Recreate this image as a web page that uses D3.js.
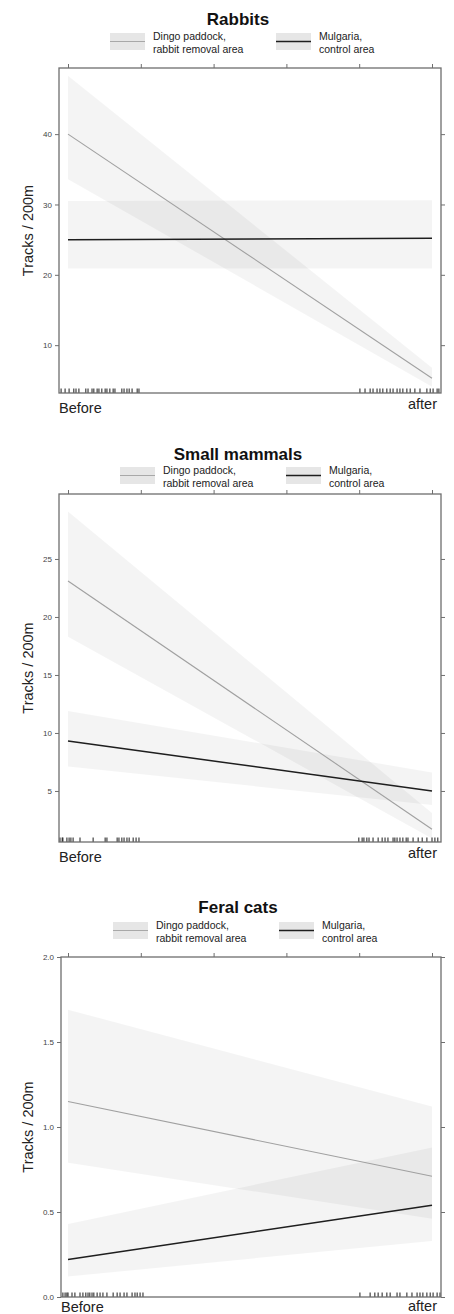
<!DOCTYPE html>
<html>
<head>
<meta charset="utf-8">
<script src="https://cdn.jsdelivr.net/npm/d3@7"></script>
<style>
  html, body { margin: 0; padding: 0; background: #fff; }
  svg { display: block; font-family: "Liberation Sans", Arial, sans-serif; }
</style>
</head>
<body>
<svg id="chart" width="454" height="1314"></svg>
<script>
// ---------------- DATA ----------------
const categories = ["Before", "after"];
const categoryX = [0, 1];
const topTickValues = [0, 0.2, 0.4, 0.6, 0.8, 1.0];
const seriesLabels = [["Dingo paddock,", "rabbit removal area"], ["Mulgaria,", "control area"]];
const panelTitles = ["Rabbits", "Small mammals", "Feral cats"];
const yAxisTitle = "Tracks / 200m";

// Rabbits
const rabbitsDomain = [3.2, 49.4];
const rabbitsTicks = [10, 20, 30, 40];
const rabbitsTickLabels = ["10", "20", "30", "40"];
const rabbitsDingoFit = [40.0, 5.3];
const rabbitsDingoLower = [33.6, 4.1];
const rabbitsDingoUpper = [48.3, 6.8];
const rabbitsMulgariaFit = [25.0, 25.2];
const rabbitsMulgariaLower = [20.9, 20.9];
const rabbitsMulgariaUpper = [30.5, 30.6];
const rabbitsRug = [-0.019, -0.008, 0.003, 0.016, 0.022, 0.030, 0.049, 0.055, 0.066, 0.071, 0.080, 0.085,
  0.093, 0.102, 0.107, 0.115, 0.124, 0.129, 0.148, 0.154, 0.162, 0.168, 0.176, 0.190, 0.195,
  0.802, 0.816, 0.830, 0.838, 0.849, 0.857, 0.865, 0.876, 0.885, 0.893, 0.904, 0.912, 0.920,
  0.931, 0.940, 0.953, 0.967, 0.986, 0.995, 1.003, 1.014, 1.019];

// Small mammals
const smallDomain = [0.6, 30.6];
const smallTicks = [5, 10, 15, 20, 25];
const smallTickLabels = ["5", "10", "15", "20", "25"];
const smallDingoFit = [23.1, 1.7];
const smallDingoLower = [18.3, 0.9];
const smallDingoUpper = [29.1, 3.1];
const smallMulgariaFit = [9.3, 5.0];
const smallMulgariaLower = [7.1, 3.8];
const smallMulgariaUpper = [11.9, 6.6];
const smallRug = [-0.022, -0.016, -0.014, -0.003, 0.003, 0.008, 0.014, 0.033, 0.069, 0.102, 0.107,
  0.135, 0.140, 0.148, 0.154, 0.162, 0.168, 0.179, 0.187, 0.195,
  0.799, 0.808, 0.813, 0.821, 0.827, 0.838, 0.852, 0.863, 0.871, 0.879, 0.893, 0.898, 0.904,
  0.912, 0.920, 0.929, 0.934, 0.948, 0.962, 0.973, 0.986, 1.000, 1.008, 1.016];

// Feral cats
const catsDomain = [0, 2];
const catsTicks = [0, 0.5, 1.0, 1.5, 2.0];
const catsTickLabels = ["0.0", "0.5", "1.0", "1.5", "2.0"];
const catsDingoFit = [1.15, 0.71];
const catsDingoLower = [0.79, 0.46];
const catsDingoUpper = [1.69, 1.12];
const catsMulgariaFit = [0.22, 0.54];
const catsMulgariaLower = [0.12, 0.33];
const catsMulgariaUpper = [0.43, 0.88];
const catsRug = [-0.014, -0.008, -0.003, 0.000, 0.011, 0.019, 0.033, 0.041, 0.049, 0.055, 0.060, 0.066,
  0.071, 0.080, 0.088, 0.096, 0.107, 0.124, 0.135, 0.143, 0.154, 0.162, 0.176, 0.184, 0.190, 0.198, 0.206,
  0.802, 0.830, 0.843, 0.852, 0.863, 0.876, 0.885, 0.904, 0.912, 0.931, 0.945, 0.959, 0.967,
  0.975, 0.986, 0.995, 1.003, 1.014, 1.022];

// ---------------- LAYOUT (positions, not data) ----------------
const panels = [
  { title: panelTitles[0], domain: rabbitsDomain, ticks: rabbitsTicks, tickLabels: rabbitsTickLabels,
    dingo: [rabbitsDingoFit, rabbitsDingoLower, rabbitsDingoUpper],
    mulg: [rabbitsMulgariaFit, rabbitsMulgariaLower, rabbitsMulgariaUpper], rug: rabbitsRug,
    top: 68, bottom: 393, left: 59, right: 441, titleY: 25, legY: 33, legX1: 110, legX2: 276,
    befDy: 20, aftDy: 16 },
  { title: panelTitles[1], domain: smallDomain, ticks: smallTicks, tickLabels: smallTickLabels,
    dingo: [smallDingoFit, smallDingoLower, smallDingoUpper],
    mulg: [smallMulgariaFit, smallMulgariaLower, smallMulgariaUpper], rug: smallRug,
    top: 494, bottom: 842, left: 59, right: 441, titleY: 460, legY: 467, legX1: 120, legX2: 286,
    befDy: 20, aftDy: 16 },
  { title: panelTitles[2], domain: catsDomain, ticks: catsTicks, tickLabels: catsTickLabels,
    dingo: [catsDingoFit, catsDingoLower, catsDingoUpper],
    mulg: [catsMulgariaFit, catsMulgariaLower, catsMulgariaUpper], rug: catsRug,
    top: 957, bottom: 1297, left: 61, right: 441, titleY: 913, legY: 922, legX1: 113, legX2: 279,
    befDy: 15, aftDy: 14 }
];

const svg = d3.select("#chart");
const x = d3.scaleLinear().domain([0, 1]).range([68, 432]);
const frameCol = "#6e6e6e";

panels.forEach(p => {
  const g = svg.append("g");
  const y = d3.scaleLinear().domain(p.domain).range([p.bottom, p.top]);

  // title
  g.append("text").attr("x", 238).attr("y", p.titleY).attr("text-anchor", "middle")
    .attr("font-size", 17).attr("font-weight", "bold").attr("fill", "#111").text(p.title);

  // legend
  [[p.legX1, "#a8a8a8", 1, seriesLabels[0]], [p.legX2, "#1e1e1e", 1.6, seriesLabels[1]]].forEach(([lx, col, w, lab]) => {
    g.append("rect").attr("x", lx).attr("y", p.legY).attr("width", 35).attr("height", 17).attr("fill", "#e6e6e6");
    g.append("line").attr("x1", lx).attr("x2", lx + 35).attr("y1", p.legY + 8.5).attr("y2", p.legY + 8.5)
      .attr("stroke", col).attr("stroke-width", w);
    lab.forEach((t, i) => {
      g.append("text").attr("x", lx + 43).attr("y", p.legY + 7 + i * 12.5).attr("font-size", 10.5)
        .attr("fill", "#222").text(t);
    });
  });

  // bands
  const area = d3.area().x((d, i) => x(categoryX[i])).y0(d => y(d[0])).y1(d => y(d[1]));
  const line = d3.line().x((d, i) => x(categoryX[i])).y(d => y(d));
  [p.dingo, p.mulg].forEach(s => {
    const band = categoryX.map((c, i) => [s[1][i], s[2][i]]);
    g.append("path").attr("d", area(band)).attr("fill", "#000").attr("fill-opacity", 0.045);
  });
  g.append("path").attr("d", line(p.dingo[0])).attr("fill", "none").attr("stroke", "#a0a0a0").attr("stroke-width", 1.1);
  g.append("path").attr("d", line(p.mulg[0])).attr("fill", "none").attr("stroke", "#1e1e1e").attr("stroke-width", 1.5);

  // rug
  g.selectAll(".rug").data(p.rug).enter().append("line")
    .attr("x1", d => x(d)).attr("x2", d => x(d)).attr("y1", p.bottom).attr("y2", p.bottom - 4.5)
    .attr("stroke", "#1a1a1a").attr("stroke-width", 1);

  // frame
  g.append("rect").attr("x", p.left).attr("y", p.top).attr("width", p.right - p.left).attr("height", p.bottom - p.top)
    .attr("fill", "none").attr("stroke", frameCol).attr("stroke-width", 1.3);

  // left axis
  const yl = d3.axisLeft(y).tickValues(p.ticks).tickFormat((d, i) => p.tickLabels[i]).tickSize(4).tickPadding(3);
  const ga = g.append("g").attr("transform", `translate(${p.left},0)`).call(yl);
  ga.select(".domain").remove();
  ga.selectAll("line").attr("stroke", frameCol);
  ga.selectAll("text").attr("font-size", 8).attr("fill", "#444").attr("font-family", "Liberation Sans, Arial, sans-serif");
  // right ticks
  const yr = d3.axisRight(y).tickValues(p.ticks).tickFormat("").tickSize(4);
  const gr = g.append("g").attr("transform", `translate(${p.right},0)`).call(yr);
  gr.select(".domain").remove();
  gr.selectAll("line").attr("stroke", frameCol);
  // top ticks
  const xt = d3.axisTop(x).tickValues(topTickValues).tickFormat("").tickSize(4);
  const gt = g.append("g").attr("transform", `translate(0,${p.top})`).call(xt);
  gt.select(".domain").remove();
  gt.selectAll("line").attr("stroke", frameCol);

  // category labels
  g.append("text").attr("x", p.left).attr("y", p.bottom + p.befDy).attr("font-size", 14.5).attr("fill", "#222").text(categories[0]);
  g.append("text").attr("x", 437).attr("y", p.bottom + p.aftDy).attr("text-anchor", "end").attr("font-size", 14.5).attr("fill", "#222").text(categories[1]);

  // y title
  const cy = (p.top + p.bottom) / 2;
  g.append("text").attr("transform", `translate(33,${cy}) rotate(-90)`).attr("text-anchor", "middle")
    .attr("font-size", 14.5).attr("fill", "#222").text(yAxisTitle);
});
</script>
</body>
</html>
